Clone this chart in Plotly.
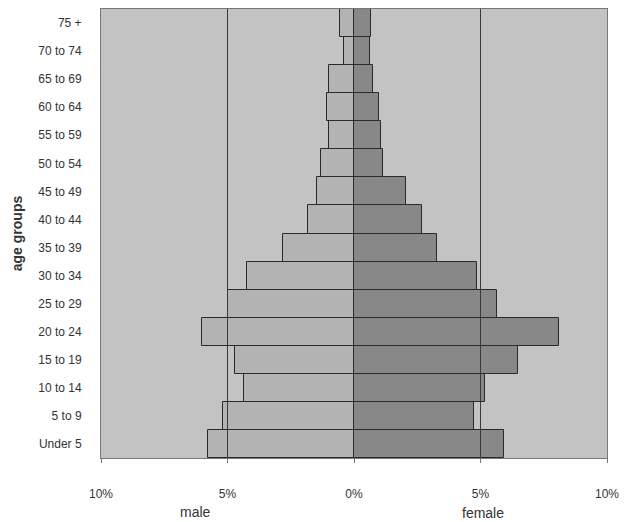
import plotly.graph_objects as go

age_groups = ["Under 5", "5 to 9", "10 to 14", "15 to 19", "20 to 24", "25 to 29",
              "30 to 34", "35 to 39", "40 to 44", "45 to 49", "50 to 54", "55 to 59",
              "60 to 64", "65 to 69", "70 to 74", "75 +"]
male_pct = [5.78, 5.17, 4.33, 4.7, 6.0, 5.0, 4.24, 2.8, 1.8, 1.47, 1.3, 1.0,
            1.05, 1.0, 0.4, 0.55]
female_pct = [5.93, 4.74, 5.17, 6.48, 8.1, 5.66, 4.87, 3.29, 2.68, 2.04, 1.16, 1.05,
              0.99, 0.74, 0.63, 0.66]
tick_vals = [-10, -5, 0, 5, 10]
tick_text = ["10%", "5%", "0%", "5%", "10%"]

FONT = "Liberation Sans Narrow, Arial Narrow, Liberation Sans, Arial, sans-serif"

fig = go.Figure()
fig.add_trace(go.Bar(
    y=age_groups, x=[-v for v in male_pct], orientation="h", name="male",
    marker=dict(color="#b3b3b3", line=dict(color="#2a2a2a", width=1)),
    width=1.0,
))
fig.add_trace(go.Bar(
    y=age_groups, x=female_pct, orientation="h", name="female",
    marker=dict(color="#888888", line=dict(color="#2a2a2a", width=1)),
    width=1.0,
))

for v in (-5, 5):
    fig.add_shape(type="line", xref="x", yref="paper", x0=v, x1=v, y0=0, y1=1,
                  line=dict(color="#3a3a3a", width=1), layer="above")

fig.update_layout(
    width=634, height=522,
    margin=dict(l=101, r=27, t=9, b=64),
    paper_bgcolor="white", plot_bgcolor="#c3c3c3",
    barmode="overlay", bargap=0, showlegend=False,
    font=dict(family=FONT, size=12, color="#333333"),
    xaxis=dict(range=[-10, 10], tickvals=tick_vals, ticktext=tick_text,
               showgrid=False, zeroline=False, showline=True, linecolor="#777777",
               linewidth=1, mirror=True, ticks="outside", ticklen=4,
               tickcolor="#777777", ticklabelstandoff=21,
               tickfont=dict(family=FONT, size=12, color="#333333")),
    yaxis=dict(showgrid=False, zeroline=False, showline=True, linecolor="#777777",
               linewidth=1, mirror=True, ticks="", ticklabelstandoff=16,
               tickfont=dict(family=FONT, size=12, color="#333333"),
               title=dict(text="<b>age groups</b>", standoff=12,
                          font=dict(family="Liberation Sans, Arial, sans-serif",
                                    size=14, color="#333333"))),
    annotations=[
        dict(text="male", x=-6.25, y=-0.12, xref="x", yref="paper", showarrow=False,
             yanchor="middle", xanchor="center",
             font=dict(family=FONT, size=14, color="#333333")),
        dict(text="female", x=5.1, y=-0.123, xref="x", yref="paper", showarrow=False,
             yanchor="middle", xanchor="center",
             font=dict(family=FONT, size=14, color="#333333")),
    ],
)

fig.write_html("out.html")
